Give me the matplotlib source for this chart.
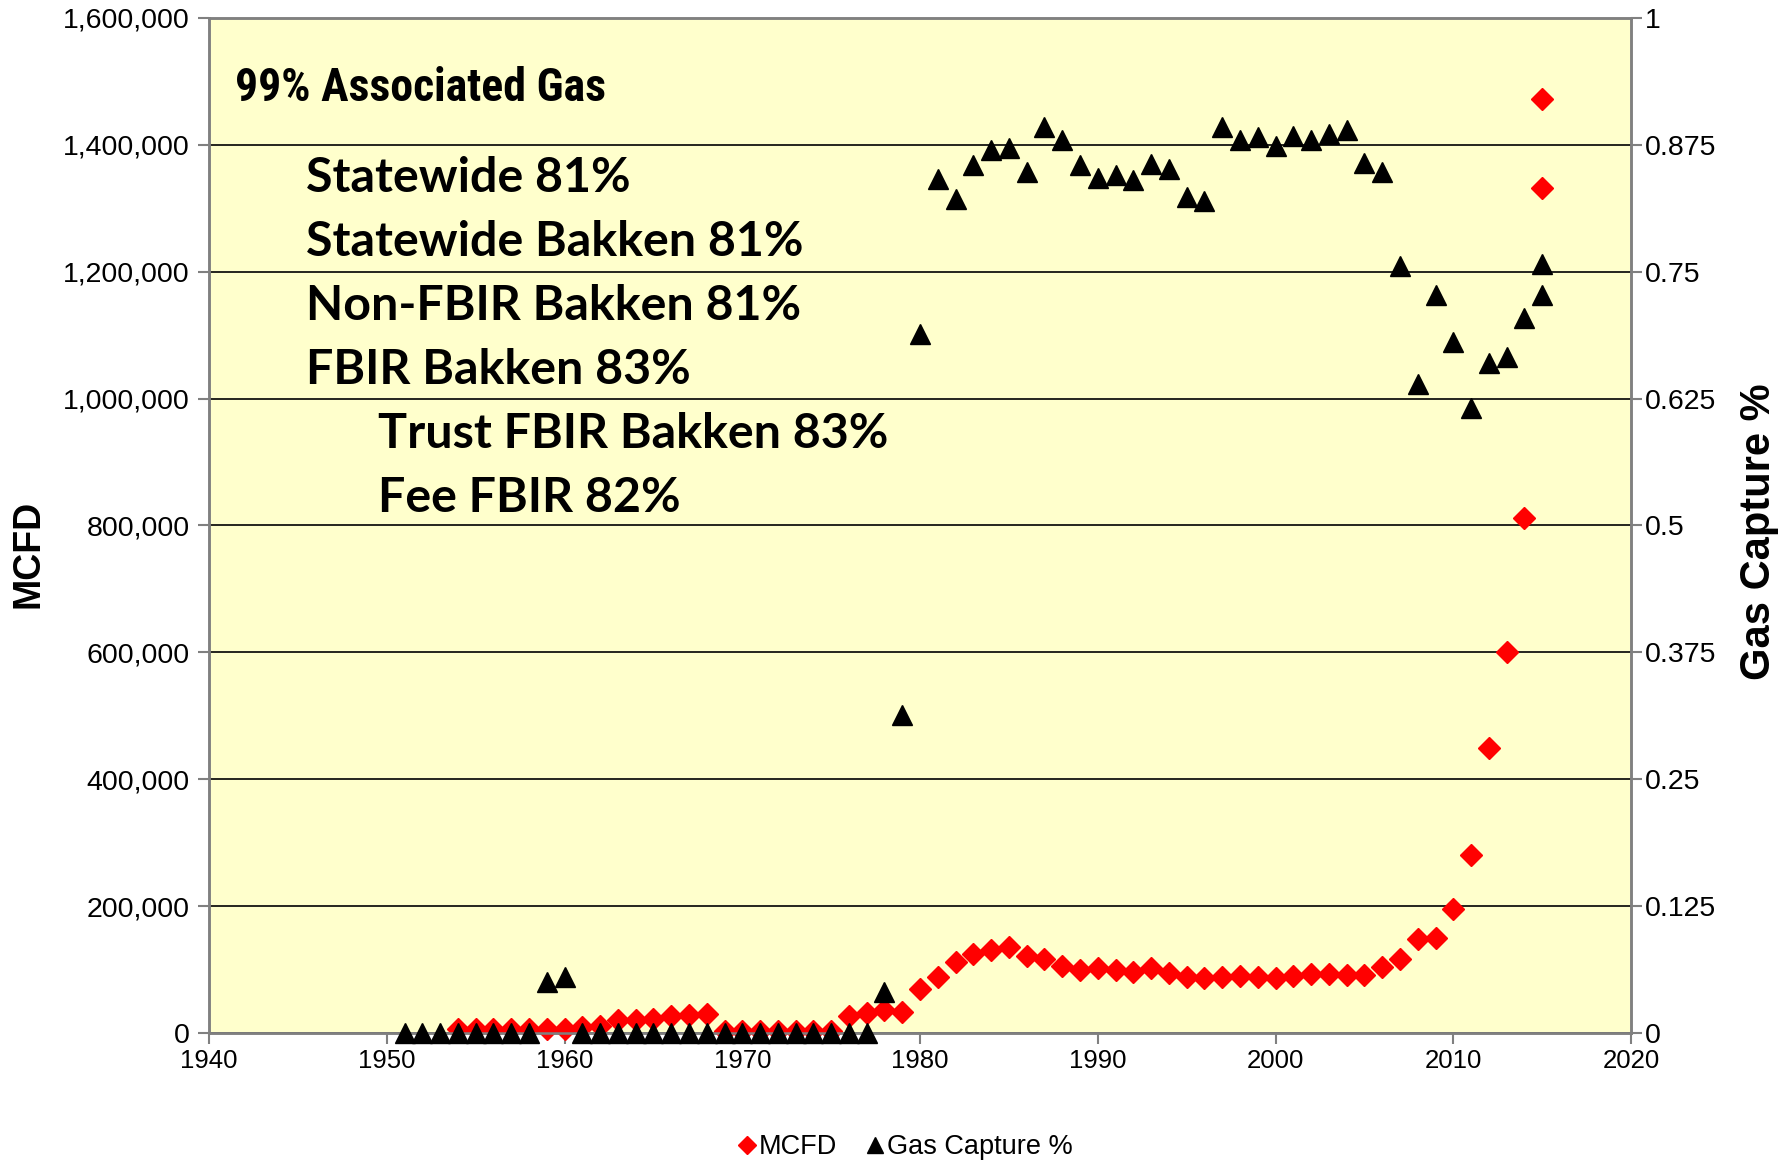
import numpy as np
import matplotlib
matplotlib.use("Agg")
import matplotlib.pyplot as plt
from matplotlib.ticker import FuncFormatter, FixedLocator

# --------------------------------------------------
# Data
# --------------------------------------------------
mcfd_years = [1954, 1955, 1956, 1957, 1958, 1959, 1960, 1961, 1962, 1963,
              1964, 1965, 1966, 1967, 1968, 1969, 1970, 1971, 1972, 1973,
              1974, 1975, 1976, 1977, 1978, 1979, 1980, 1981, 1982, 1983,
              1984, 1985, 1986, 1987, 1988, 1989, 1990, 1991, 1992, 1993,
              1994, 1995, 1996, 1997, 1998, 1999, 2000, 2001, 2002, 2003,
              2004, 2005, 2006, 2007, 2008, 2009, 2010, 2011, 2012, 2013,
              2014, 2015, 2015]
mcfd_values = [6000, 6000, 6000, 6000, 6000, 6000, 6000, 10000, 11000, 20000,
               20000, 22000, 26000, 28000, 30000, 3000, 3000, 3000, 3000, 3000,
               3000, 3000, 26000, 31000, 36000, 33000, 70000, 88000, 112000, 124000,
               131000, 135000, 121000, 117000, 106000, 99000, 103000, 99000, 96000, 103000,
               94000, 88000, 87000, 88000, 90000, 88000, 87000, 90000, 93000, 93000,
               92000, 92000, 104000, 117000, 148000, 150000, 196000, 281000, 450000, 600000,
               812000, 1332000, 1473000]

capture_years = [1951, 1952, 1953, 1954, 1955, 1956, 1957, 1958, 1959, 1960,
                 1961, 1962, 1963, 1964, 1965, 1966, 1967, 1968, 1969, 1970,
                 1971, 1972, 1973, 1974, 1975, 1976, 1977, 1978, 1979, 1980,
                 1981, 1982, 1983, 1984, 1985, 1986, 1987, 1988, 1989, 1990,
                 1991, 1992, 1993, 1994, 1995, 1996, 1997, 1998, 1999, 2000,
                 2001, 2002, 2003, 2004, 2005, 2006, 2007, 2008, 2009, 2010,
                 2011, 2012, 2013, 2014, 2015, 2015]
capture_values = [0, 0, 0, 0, 0, 0, 0, 0, 0.050, 0.055,
                  0, 0, 0, 0, 0, 0, 0, 0, 0, 0,
                  0, 0, 0, 0, 0, 0, 0, 0.040, 0.313, 0.689,
                  0.841, 0.822, 0.855, 0.870, 0.872, 0.848, 0.893, 0.880, 0.855, 0.842,
                  0.845, 0.840, 0.856, 0.851, 0.824, 0.820, 0.893, 0.880, 0.883, 0.874,
                  0.884, 0.880, 0.886, 0.890, 0.857, 0.848, 0.756, 0.639, 0.727, 0.681,
                  0.616, 0.660, 0.666, 0.704, 0.758, 0.727]

notes = ["Statewide 81%", "Statewide Bakken 81%", "Non-FBIR Bakken 81%",
         "FBIR Bakken 83%", "Trust FBIR Bakken 83%", "Fee FBIR 82%"]
note_indent = [False, False, False, False, True, True]

x_ticks = list(range(1940, 2021, 10))
left_ticks = list(range(0, 1600001, 200000))
right_ticks = [0, 0.125, 0.25, 0.375, 0.5, 0.625, 0.75, 0.875, 1]
right_labels = ["0", "0.125", "0.25", "0.375", "0.5", "0.625", "0.75", "0.875", "1"]

# --------------------------------------------------
# Figure
# --------------------------------------------------
plt.rcParams['font.family'] = ['Liberation Sans', 'DejaVu Sans']
grey = '#808080'

fig = plt.figure(figsize=(17.91, 11.60), dpi=100)
ax = fig.add_axes([0.1167, 0.1095, 0.794, 0.875])
ax.set_facecolor('#FFFFCC')
ax2 = ax.twinx()

ax.set_xlim(1940, 2020)
ax.set_ylim(0, 1600000)
ax2.set_ylim(0, 1)

ax.xaxis.set_major_locator(FixedLocator(x_ticks))
ax.yaxis.set_major_locator(FixedLocator(left_ticks))
ax.yaxis.set_major_formatter(FuncFormatter(lambda v, p: f"{int(v):,}"))
ax2.yaxis.set_major_locator(FixedLocator(right_ticks))
ax2.set_yticklabels(right_labels)

ax.grid(axis='y', color='black', lw=1.2, zorder=0)
ax.set_axisbelow(True)

for a in (ax, ax2):
    for s in a.spines.values():
        s.set_color(grey)
        s.set_linewidth(1.8)
    a.tick_params(labelsize=20.5, colors='black', length=8, width=1.5, direction='out')
    a.tick_params(color=grey)
ax.tick_params(axis='x', labelsize=18.5)
ax.tick_params(axis='y', pad=6)
ax2.tick_params(axis='y', pad=2)

d1, = ax.plot(mcfd_years, mcfd_values, ls='none', marker='D', ms=11,
              color='red', mec='red', label='MCFD', zorder=3, clip_on=False)
d2, = ax2.plot(capture_years, capture_values, ls='none', marker='^', ms=14,
               color='black', mec='black', label='Gas Capture %', zorder=4, clip_on=False)

ax.set_ylabel("MCFD", fontsize=27, fontweight='bold')
ax.yaxis.set_label_coords(-0.114, 0.472)
ax2.set_ylabel("Gas Capture %", fontsize=30, fontweight='bold')
ax2.yaxis.set_label_coords(1.076, 0.494)

# --------------------------------------------------
# Annotations
# --------------------------------------------------
ax.text(0.018, 0.931, "99% Associated Gas", transform=ax.transAxes,
        fontsize=33, fontweight='bold', va='center', ha='left', fontstretch='condensed',
        family=['Liberation Sans Narrow', 'Noto Sans Condensed', 'Roboto Condensed',
                'Liberation Sans'], zorder=5)

y0 = 0.842
for i, (txt, ind) in enumerate(zip(notes, note_indent)):
    ax.text(0.119 if ind else 0.068, y0 - i * 0.063, txt, transform=ax.transAxes,
            fontsize=34.8, fontweight='bold', va='center', ha='left',
            family=['Lato', 'DejaVu Sans'], zorder=5)

fig.legend(handles=[d1, d2], loc='center', bbox_to_anchor=(0.505, 0.011),
           ncol=2, frameon=False, fontsize=19.5, handletextpad=0.05,
           handlelength=0.8, columnspacing=1.0, markerscale=0.8)

fig.savefig("out.png", dpi=100)
